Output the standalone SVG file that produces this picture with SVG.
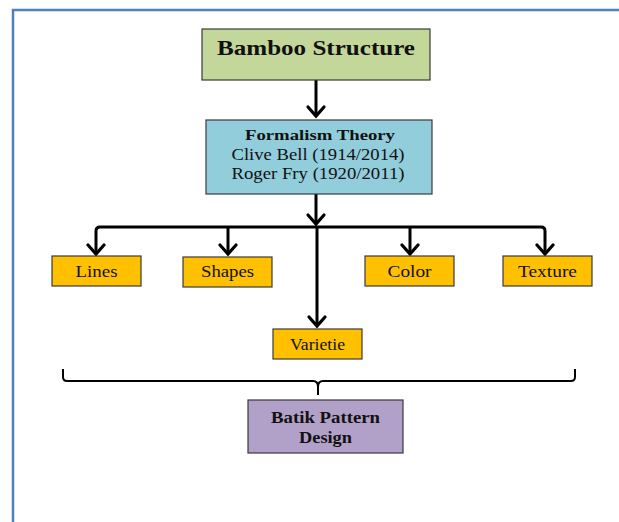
<svg xmlns="http://www.w3.org/2000/svg" width="619" height="522" viewBox="0 0 619 522">
<defs>
<style>
.box{stroke:#3a3a3a;stroke-width:1.2}
.t{font-family:"Liberation Serif","Times New Roman",serif;fill:#111;text-anchor:middle}
.b{font-weight:bold}
.c{fill:none;stroke:#000;stroke-width:3;stroke-linejoin:round;stroke-linecap:butt}
.h{fill:none;stroke:#000;stroke-width:3.2;stroke-linecap:round;stroke-linejoin:miter}
</style>
</defs>
<rect x="0" y="0" width="619" height="522" fill="#fff"/>
<rect x="13" y="10" width="640" height="540" fill="none" stroke="#4f81bd" stroke-width="2.5"/>

<g id="connectors">
<path class="c" d="M316,80 V116"/>
<path class="h" d="M308,107 L316,116 L324,107"/>
<path class="c" d="M316,194 V224"/>
<path class="h" d="M308,215 L316,224 L324,215"/>
<path class="c" d="M96,254 V231 Q96,227 100,227 H541 Q545,227 545,231 V254"/>
<path class="h" d="M88,245 L96,254 L104,245"/>
<path class="h" d="M537,245 L545,254 L553,245"/>
<path class="c" d="M228,227 V254"/>
<path class="h" d="M220,245 L228,254 L236,245"/>
<path class="c" d="M410,227 V254"/>
<path class="h" d="M402,245 L410,254 L418,245"/>
<path class="c" d="M317,227 V326"/>
<path class="h" d="M309,317 L317,326 L325,317"/>
<path d="M63,369 V377 Q63,381 67,381 H313 Q318,381 318,387 V395 M318,387 Q318,381 323,381 H571 Q575,381 575,377 V369" fill="none" stroke="#000" stroke-width="2"/>
</g>

<g id="bamboo">
<rect class="box" x="202" y="29" width="228" height="51" fill="#c4d79b"/>
<text class="t b" x="316" y="55" font-size="22" textLength="198" lengthAdjust="spacingAndGlyphs">Bamboo Structure</text>
</g>

<g id="formalism">
<rect class="box" x="206" y="120" width="226" height="74" fill="#92cddc"/>
<text class="t b" x="320" y="140" font-size="15.5" textLength="150" lengthAdjust="spacingAndGlyphs">Formalism Theory</text>
<text class="t" x="318" y="160" font-size="17" textLength="173" lengthAdjust="spacingAndGlyphs">Clive Bell (1914/2014)</text>
<text class="t" x="318" y="179" font-size="17" textLength="173" lengthAdjust="spacingAndGlyphs">Roger Fry (1920/2011)</text>
</g>

<g id="lines">
<rect class="box" x="52" y="256" width="89" height="30" fill="#ffc000"/>
<text class="t" x="96.5" y="277" font-size="17" textLength="42" lengthAdjust="spacingAndGlyphs">Lines</text>
</g>
<g id="shapes">
<rect class="box" x="183" y="257" width="89" height="30" fill="#ffc000"/>
<text class="t" x="227.5" y="277" font-size="17" textLength="53" lengthAdjust="spacingAndGlyphs">Shapes</text>
</g>
<g id="color">
<rect class="box" x="365" y="256" width="89" height="30" fill="#ffc000"/>
<text class="t" x="409.5" y="277" font-size="17" textLength="44" lengthAdjust="spacingAndGlyphs">Color</text>
</g>
<g id="texture">
<rect class="box" x="503" y="256" width="89" height="30" fill="#ffc000"/>
<text class="t" x="547.5" y="277" font-size="17" textLength="59" lengthAdjust="spacingAndGlyphs">Texture</text>
</g>
<g id="varietie">
<rect class="box" x="273" y="329" width="89" height="30" fill="#ffc000"/>
<text class="t" x="317.5" y="350" font-size="17" textLength="55" lengthAdjust="spacingAndGlyphs">Varietie</text>
</g>

<g id="batik">
<rect class="box" x="248" y="400" width="155" height="53" fill="#b1a0c7"/>
<text class="t b" x="325.5" y="423" font-size="16.5" textLength="109" lengthAdjust="spacingAndGlyphs">Batik Pattern</text>
<text class="t b" x="325.5" y="443" font-size="16.5" textLength="53" lengthAdjust="spacingAndGlyphs">Design</text>
</g>
</svg>
